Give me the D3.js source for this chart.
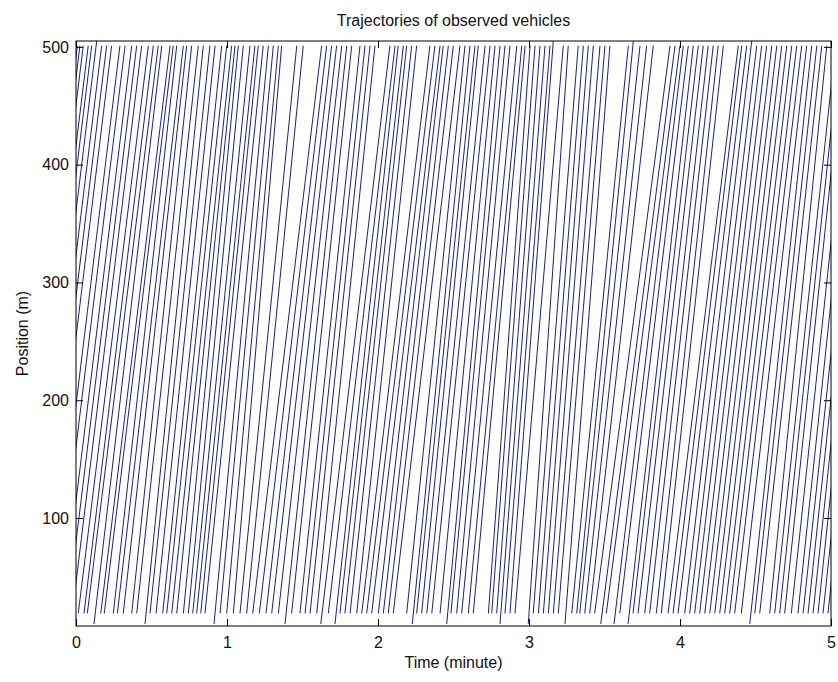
<!DOCTYPE html>
<html>
<head>
<meta charset="utf-8">
<script src="https://cdn.jsdelivr.net/npm/d3@7"></script>
<style>
	body { margin: 0; background: #fff; }
	text { font-family: "Liberation Sans", Arial, sans-serif; fill: #111; }
</style>
</head>
<body>
<svg id="chart" width="838" height="682"></svg>
<script>
// axis ticks
const xTicks = [0, 1, 2, 3, 4, 5];
const yTicks = [100, 200, 300, 400, 500];

// time (minute) at which each vehicle is first seen, bottom of its trajectory
const tIn = [-0.451, -0.434, -0.412, -0.379, -0.356, -0.323, -0.290, -0.257, -0.224, -0.169, -0.135, -0.091, -0.058, -0.025,
	0.015, 0.053, 0.075, 0.119, 0.164, 0.187, 0.247, 0.274, 0.313, 0.369, 0.402, 0.457, 0.490, 0.530, 0.574, 0.601, 0.634, 0.667,
	0.711, 0.744, 0.773, 0.799, 0.826, 0.854, 0.914, 0.954, 0.998, 1.042, 1.086, 1.130, 1.170, 1.214, 1.258, 1.296, 1.340, 1.384,
	1.428, 1.483, 1.517, 1.550, 1.594, 1.621, 1.671, 1.715, 1.748, 1.781, 1.815, 1.859, 1.892, 1.925, 1.958, 2.002, 2.035, 2.068,
	2.101, 2.190, 2.227, 2.256, 2.289, 2.323, 2.356, 2.411, 2.455, 2.483, 2.521, 2.554, 2.598, 2.631, 2.731, 2.753, 2.786, 2.808,
	2.841, 2.874, 2.907, 2.995, 3.028, 3.062, 3.095, 3.128, 3.161, 3.194, 3.238, 3.283, 3.316, 3.336, 3.369, 3.402, 3.435, 3.475,
	3.512, 3.563, 3.601, 3.656, 3.689, 3.722, 3.766, 3.799, 3.843, 3.876, 3.921, 3.954, 3.987, 4.031, 4.064, 4.097, 4.130, 4.164,
	4.197, 4.230, 4.263, 4.296, 4.329, 4.362, 4.406, 4.462, 4.495, 4.528, 4.594, 4.627, 4.660, 4.693, 4.737, 4.781, 4.815, 4.848,
	4.881, 4.914, 4.947, 4.980];

// time (minute) at which each vehicle leaves the observed section, top of its trajectory
const tOut = [0.009, 0.026, 0.048, 0.081, 0.104, 0.137, 0.170, 0.203, 0.236, 0.291, 0.325, 0.369, 0.402, 0.435,
	0.479, 0.512, 0.545, 0.568, 0.623, 0.644, 0.667, 0.711, 0.733, 0.766, 0.810, 0.843, 0.887, 0.921, 0.965, 0.998, 1.031, 1.053,
	1.075, 1.108, 1.152, 1.185, 1.207, 1.240, 1.274, 1.307, 1.340, 1.362, 1.462, 1.505, 1.627, 1.660, 1.693, 1.726, 1.760, 1.793,
	1.826, 1.881, 1.914, 1.947, 1.980, 2.079, 2.113, 2.134, 2.168, 2.190, 2.223, 2.256, 2.344, 2.377, 2.411, 2.432, 2.466, 2.499,
	2.543, 2.576, 2.609, 2.642, 2.664, 2.709, 2.742, 2.775, 2.808, 2.841, 2.874, 2.919, 2.952, 2.974, 3.007, 3.040, 3.073, 3.106,
	3.139, 3.161, 3.227, 3.260, 3.326, 3.360, 3.393, 3.426, 3.470, 3.503, 3.536, 3.658, 3.691, 3.735, 3.779, 3.823, 3.934, 3.967,
	4.000, 4.022, 4.055, 4.088, 4.121, 4.154, 4.187, 4.220, 4.253, 4.287, 4.386, 4.409, 4.442, 4.475, 4.508, 4.541, 4.574, 4.608,
	4.641, 4.674, 4.707, 4.740, 4.773, 4.806, 4.839, 4.872, 4.906, 4.939, 4.972, 5.03, 5.06, 5.09, 5.14, 5.18, 5.22, 5.25,
	5.28, 5.31, 5.35, 5.38];

// most trajectories run from 19 m to 501 m, a few are recorded further
const posStart = 19, posEnd = 501;
const lowStarts = [0.119, 0.457, 0.914, 1.384, 1.621, 1.715, 2.227, 2.455, 2.808, 2.995, 3.238, 3.475, 3.563, 3.656, 4.462];
const lowStartPos = 10;
const highEnds = [0.137, 3.161, 3.691, 4.475];
const highEndPos = 505;

const svg = d3.select("#chart");
const margin = {top: 41, right: 7, bottom: 56, left: 76};
const W = 838, H = 682;
const x = d3.scaleLinear([0, 5], [margin.left, W - margin.right]);
const y = d3.scaleLinear([8.3, 505], [H - margin.bottom, margin.top]);

svg.append("rect").attr("width", W).attr("height", H).attr("fill", "#fff");

svg.append("clipPath").attr("id", "plot")
	.append("rect")
	.attr("x", x(0)).attr("y", y(505))
	.attr("width", x(5) - x(0)).attr("height", y(8.3) - y(505));

let tracks = d3.range(Math.min(tIn.length, tOut.length)).map(i => [
	[tIn[i], lowStarts.includes(tIn[i]) ? lowStartPos : posStart],
	[tOut[i], highEnds.includes(tOut[i]) ? highEndPos : posEnd]
]);

let line = d3.line()
	.x(d => x(d[0]))
	.y(d => y(d[1]));

svg.append("g")
	.attr("clip-path", "url(#plot)")
	.attr("fill", "none")
	.attr("stroke", "#1d2170")
	.attr("stroke-width", 1)
	.selectAll("path")
	.data(tracks)
	.join("path")
	.attr("d", line);

// box with inward ticks on all sides, matlab style
let fontSize = "16px";
svg.append("g")
	.attr("transform", `translate(0,${y(8.3)})`)
	.call(d3.axisBottom(x).tickValues(xTicks).tickSize(-7).tickPadding(11).tickFormat(d3.format("d")))
	.call(g => g.select(".domain").remove())
	.call(g => g.selectAll("text").style("font-size", fontSize));
svg.append("g")
	.attr("transform", `translate(0,${y(505)})`)
	.call(d3.axisTop(x).tickValues(xTicks).tickSize(-7).tickFormat(""))
	.call(g => g.select(".domain").remove());
svg.append("g")
	.attr("transform", `translate(${x(0)},0)`)
	.call(d3.axisLeft(y).tickValues(yTicks).tickSize(-7).tickPadding(7).tickFormat(d3.format("d")))
	.call(g => g.select(".domain").remove())
	.call(g => g.selectAll("text").style("font-size", fontSize));
svg.append("g")
	.attr("transform", `translate(${x(5)},0)`)
	.call(d3.axisRight(y).tickValues(yTicks).tickSize(-7).tickFormat(""))
	.call(g => g.select(".domain").remove());

svg.append("rect")
	.attr("x", x(0)).attr("y", y(505))
	.attr("width", x(5) - x(0)).attr("height", y(8.3) - y(505))
	.attr("fill", "none")
	.attr("stroke", "#000")
	.attr("stroke-width", 1);

svg.append("text")
	.attr("x", (x(0) + x(5)) / 2)
	.attr("y", 26)
	.attr("text-anchor", "middle")
	.style("font-size", fontSize)
	.text("Trajectories of observed vehicles");

svg.append("text")
	.attr("x", (x(0) + x(5)) / 2)
	.attr("y", 668)
	.attr("text-anchor", "middle")
	.style("font-size", fontSize)
	.text("Time (minute)");

svg.append("text")
	.attr("transform", `translate(28,${(y(8.3) + y(505)) / 2}) rotate(-90)`)
	.attr("text-anchor", "middle")
	.style("font-size", fontSize)
	.text("Position (m)");
</script>
</body>
</html>
